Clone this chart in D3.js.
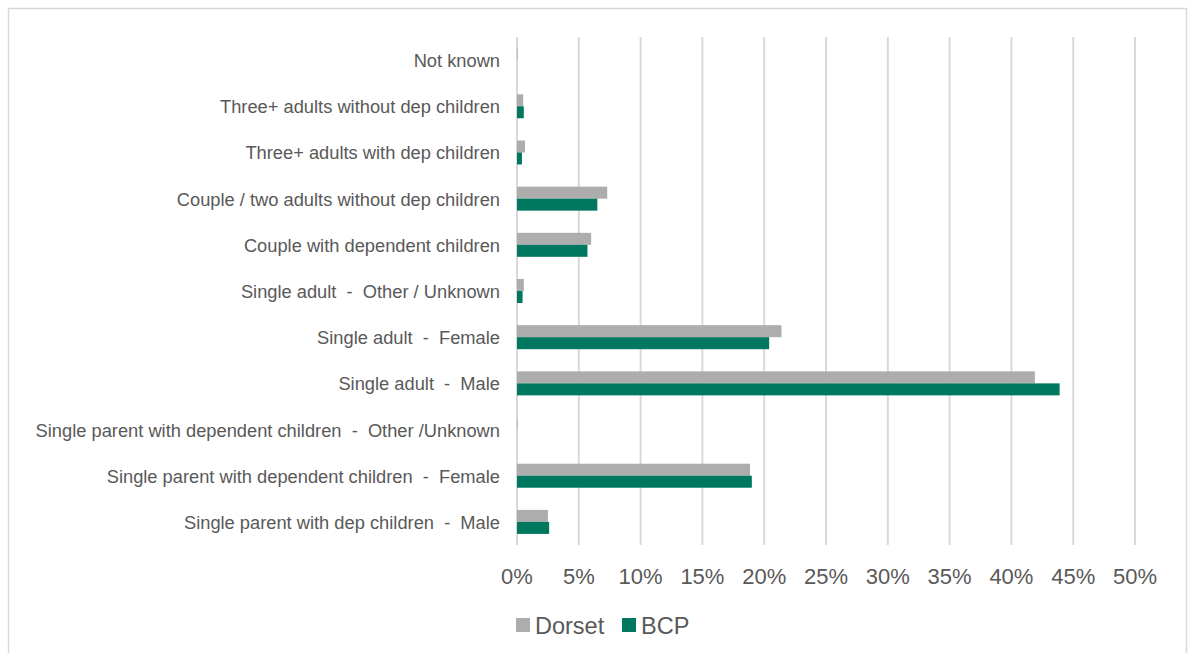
<!DOCTYPE html>
<html><head><meta charset="utf-8">
<script src="https://cdn.jsdelivr.net/npm/d3@7"></script>
<style>body{margin:0;background:#fff;} text{font-family:"Liberation Sans",Arial,sans-serif;}</style>
</head><body>
<svg id="c" width="1189" height="653"></svg>
<script>
const categories = [
  "Not known",
  "Three+ adults without dep children",
  "Three+ adults with dep children",
  "Couple / two adults without dep children",
  "Couple with dependent children",
  "Single adult  -  Other / Unknown",
  "Single adult  -  Female",
  "Single adult  -  Male",
  "Single parent with dependent children  -  Other /Unknown",
  "Single parent with dependent children  -  Female",
  "Single parent with dep children  -  Male"
];
const dorset = [0.05, 0.5, 0.65, 7.3, 6.0, 0.55, 21.4, 41.9, 0.05, 18.85, 2.5];
const bcp    = [0.0, 0.55, 0.4, 6.5, 5.7, 0.45, 20.4, 43.9, 0.0, 19.0, 2.6];
const ticks = [0,5,10,15,20,25,30,35,40,45,50];
const seriesNames = ["Dorset","BCP"];
const colors = ["#ADADAD","#00785F"];

const svg = d3.select("#c");
svg.append("rect").attr("x",8.5).attr("y",8.5).attr("width",1178).attr("height",660)
  .attr("fill","none").attr("stroke","#D9D9D9").attr("stroke-width",1.5);

const x = d3.scaleLinear().domain([0,50]).range([517,1135]);
const y = d3.scaleBand().domain(categories).range([37,545]);
const yInner = d3.scaleBand().domain(seriesNames).range([y.bandwidth()/2-12, y.bandwidth()/2+12]);

const g = svg.append("g");
g.selectAll("line.grid").data(ticks).join("line").attr("class","grid")
  .attr("x1",d=>x(d)).attr("x2",d=>x(d)).attr("y1",37).attr("y2",545)
  .attr("stroke","#D9D9D9").attr("stroke-width",2);

const series = [dorset, bcp];
series.forEach((vals,si)=>{
  g.selectAll("rect.s"+si).data(categories).join("rect").attr("class","s"+si)
    .attr("x",x(0)).attr("y",c=>y(c)+yInner(seriesNames[si]))
    .attr("width",(c,i)=>x(vals[i])-x(0)).attr("height",yInner.bandwidth())
    .attr("fill",colors[si]);
});

g.selectAll("text.cat").data(categories).join("text").attr("class","cat")
  .attr("x",500).attr("y",c=>y(c)+y.bandwidth()/2+7)
  .attr("text-anchor","end").attr("font-size",18.3).attr("fill","#595959")
  .style("white-space","pre").text(d=>d);

g.selectAll("text.tick").data(ticks).join("text").attr("class","tick")
  .attr("x",d=>x(d)).attr("y",584).attr("text-anchor","middle")
  .attr("font-size",22).attr("fill","#595959").text(d=>d+"%");

const leg = svg.append("g");
const legItems = [{n:"Dorset",x:516},{n:"BCP",x:622}];
legItems.forEach((it,i)=>{
  leg.append("rect").attr("x",it.x).attr("y",618).attr("width",14).attr("height",14).attr("fill",colors[i]);
  leg.append("text").attr("x",it.x+19).attr("y",634).attr("font-size",23.5).attr("fill","#595959").text(it.n);
});
</script>
</body></html>
